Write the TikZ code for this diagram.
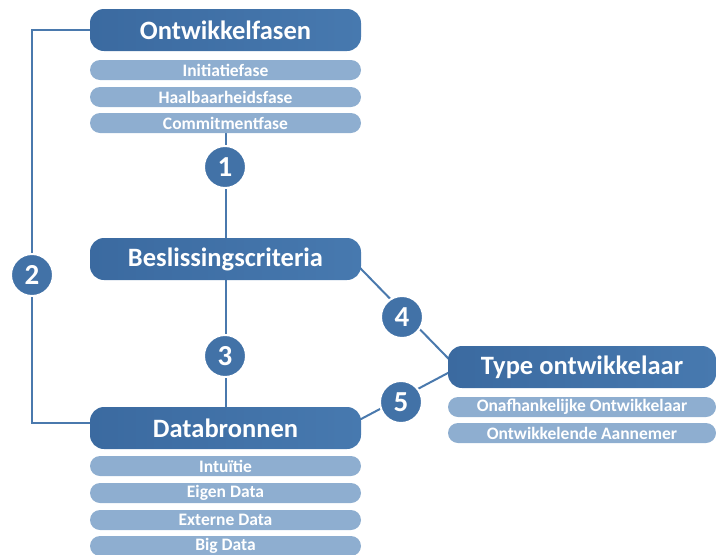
\documentclass[tikz,border=0pt]{standalone}
\usepackage{fontspec}
\setmainfont{Carlito}
\usetikzlibrary{backgrounds}
\definecolor{mainL}{HTML}{3B6AA0}
\definecolor{mainR}{HTML}{4779AF}
\definecolor{subfill}{HTML}{8EAED0}
\definecolor{linecol}{HTML}{4A79AD}
\definecolor{numfill}{HTML}{4272A7}
\tikzset{
  mainbox/.style={rounded corners=14pt, left color=mainL, right color=mainR,
    minimum width=271pt, minimum height=42pt, inner sep=0pt,
    text=white, font=\bfseries\fontsize{26.5}{28}\selectfont},
  subbox/.style={rounded corners=10pt, fill=subfill,
    minimum width=271pt, minimum height=20pt, inner sep=0pt,
    text=white, font=\bfseries\fontsize{17.5}{19}\selectfont},
  numdot/.style={circle, fill=numfill, draw=white, line width=2pt,
    minimum size=42pt, inner sep=0pt, text=white,
    font=\bfseries\fontsize{29}{31}\selectfont},
  link/.style={draw=linecol, line width=2pt}
}
\begin{document}
\begin{tikzpicture}[x=1pt,y=-1pt]
\useasboundingbox (0,0) rectangle (716,555);

% phases of development
\node[mainbox] (ontw) at (225.5,30) {Ontwikkelfasen};
\node[subbox] (init) at (225.5,70) {Initiatiefase};
\node[subbox] (haal) at (225.5,97) {Haalbaarheidsfase};
\node[subbox] (comm) at (225.5,123) {Commitmentfase};

% decision criteria
\node[mainbox] (besl) at (225.5,259) {Beslissingscriteria};

% data sources
\node[mainbox] (db) at (225.5,428) {Databronnen};
\node[subbox] (intu) at (225.5,466) {Intuïtie};
\node[subbox] (eigen) at (225.5,493) {Eigen Data};
\node[subbox] (ext) at (225.5,520) {Externe Data};
\node[subbox] (big) at (225.5,546) {Big Data};

% developer type
\node[mainbox, minimum width=268pt] (type) at (582,367) {Type ontwikkelaar};
\node[subbox, minimum width=268pt] (onaf) at (582,407) {Onafhankelijke Ontwikkelaar};
\node[subbox, minimum width=268pt] (aann) at (582,433) {Ontwikkelende Aannemer};

% numbered markers
\node[numdot] (n1) at (225,167) {1};
\node[numdot] (n2) at (32,275) {2};
\node[numdot] (n3) at (225,356) {3};
\node[numdot] (n4) at (402,317) {4};
\node[numdot] (n5) at (401,402) {5};

% connectors behind everything
\begin{pgfonlayer}{background}
\draw[link] (comm.south) -- (besl.north);
\draw[link] (besl.south) -- (db.north);
\draw[link] (ontw.west) -| (n2.center) |- ([yshift=5pt]db.west);
\draw[link] ([yshift=-6pt,xshift=-4pt]besl.east) -- ([yshift=7pt,xshift=2pt]type.west);
\draw[link] ([yshift=8pt,xshift=-2pt]db.east) -- ([yshift=-5pt,xshift=2pt]type.west);
\end{pgfonlayer}
\end{tikzpicture}
\end{document}
